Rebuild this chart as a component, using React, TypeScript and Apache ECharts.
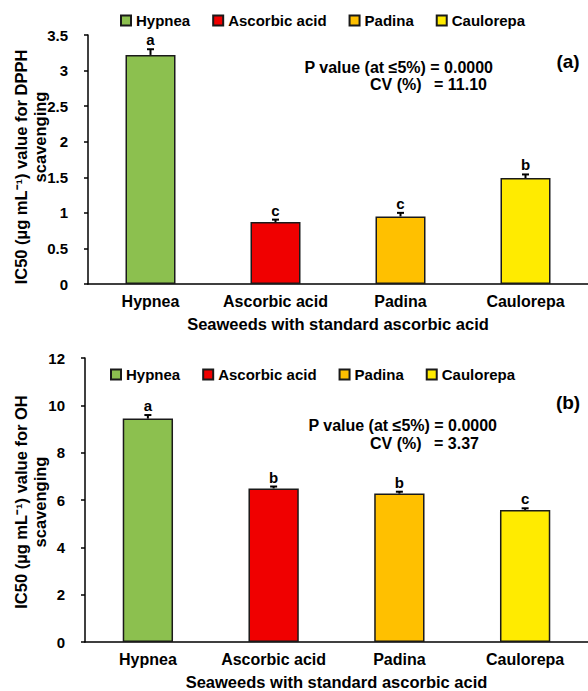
import React, { useEffect, useRef } from "react";
import * as echarts from "echarts";

const categories = ["Hypnea", "Ascorbic acid", "Padina", "Caulorepa"];
const colors = ["#8cc04f", "#f00000", "#ffc000", "#ffeb00"];

const dpphValues = [3.22, 0.87, 0.95, 1.49];
const dpphErrors = [0.08, 0.035, 0.05, 0.05];
const dpphLetters = ["a", "c", "c", "b"];

const ohValues = [9.44, 6.49, 6.27, 5.58];
const ohErrors = [0.15, 0.08, 0.08, 0.07];
const ohLetters = ["a", "b", "b", "c"];

const dpphTicks = { min: 0, max: 3.5, interval: 0.5 };
const ohTicks = { min: 0, max: 12, interval: 2 };

const FONT = "'Liberation Sans', Arial, sans-serif";

export default function App() {
  const ref = useRef<HTMLDivElement>(null);
  useEffect(() => {
    if (!ref.current) return;
    const chart = echarts.init(ref.current, null, { renderer: "svg" });

    const makeBars = (values: number[], axisIdx: number, stack: string) =>
      categories.map((name, i) => ({
        name,
        type: "bar",
        stack,
        xAxisIndex: axisIdx,
        yAxisIndex: axisIdx,
        barWidth: "40%",
        data: values.map((v, j) => (j === i ? v : "-")),
        itemStyle: { color: colors[i], borderColor: "#1a1a1a", borderWidth: 1.5 },
      }));

    const makeErr = (values: number[], errs: number[], letters: string[], axisIdx: number) => ({
      type: "custom",
      xAxisIndex: axisIdx,
      yAxisIndex: axisIdx,
      z: 10,
      data: values.map((v, i) => [i, v, errs[i]]),
      renderItem: (params: any, api: any) => {
        const x = api.value(0);
        const v = api.value(1);
        const e = api.value(2);
        const p0 = api.coord([x, v]);
        const p1 = api.coord([x, v + e]);
        return {
          type: "group",
          children: [
            { type: "line", shape: { x1: p0[0], y1: p0[1], x2: p1[0], y2: p1[1] }, style: { stroke: "#000", lineWidth: 2 } },
            { type: "line", shape: { x1: p1[0] - 3.5, y1: p1[1], x2: p1[0] + 3.5, y2: p1[1] }, style: { stroke: "#000", lineWidth: 2 } },
            {
              type: "text",
              x: p1[0],
              y: p1[1] - 2,
              style: {
                text: letters[params.dataIndex],
                textAlign: "center",
                textVerticalAlign: "bottom",
                font: `bold 15px ${FONT}`,
                fill: "#000",
              },
            },
          ],
        };
      },
    });

    const axisLabel = { color: "#000", fontWeight: "bold", fontSize: 15, fontFamily: FONT };
    const xAxisBase = (gridIndex: number) => ({
      type: "category",
      gridIndex,
      data: categories,
      axisLine: { lineStyle: { color: "#000", width: 1.5 } },
      axisTick: { show: false },
      axisLabel: { ...axisLabel, fontSize: 16, margin: 9, interval: 0 },
      name: "Seaweeds with standard ascorbic acid",
      nameLocation: "middle",
      nameGap: 31,
      nameTextStyle: { color: "#000", fontWeight: "bold", fontSize: 16.5, fontFamily: FONT },
    });
    const yAxisBase = (gridIndex: number, t: any) => ({
      type: "value",
      gridIndex,
      min: t.min,
      max: t.max,
      interval: t.interval,
      axisLine: { show: true, lineStyle: { color: "#000", width: 1.5 } },
      axisTick: { show: true, length: 4, lineStyle: { color: "#000", width: 1.5 } },
      splitLine: { show: false },
      axisLabel: { ...axisLabel, margin: 20 },
    });

    const legendBase = (top: number, left: number) => ({
      top,
      left,
      icon: "rect",
      itemWidth: 10,
      itemHeight: 10,
      itemGap: 22,
      data: categories,
      textStyle: { color: "#000", fontWeight: "bold", fontSize: 15, fontFamily: FONT },
    });

    const txt = (x: number, y: number, text: string, align: string, size = 16, rotation = 0) => ({
      type: "text",
      x,
      y,
      rotation,
      style: { text, textAlign: align, textVerticalAlign: "middle", font: `bold ${size}px ${FONT}`, fill: "#000" },
    });

    const R = Math.PI / 2;

    chart.setOption({
      animation: false,
      grid: [
        { left: 88, top: 35, width: 504, height: 249 },
        { left: 85, top: 358, width: 508, height: 286 },
      ],
      legend: [legendBase(8, 115), legendBase(362, 105)],
      xAxis: [xAxisBase(0), xAxisBase(1)],
      yAxis: [yAxisBase(0, dpphTicks), yAxisBase(1, ohTicks)],
      series: [
        ...makeBars(dpphValues, 0, "a"),
        ...makeBars(ohValues, 1, "b"),
        makeErr(dpphValues, dpphErrors, dpphLetters, 0),
        makeErr(ohValues, ohErrors, ohLetters, 1),
      ],
      graphic: [
        txt(21, 167, "IC50 (µg mL⁻¹) value for DPPH", "center", 16.5, R),
        txt(40, 137, "scavenging", "center", 16.5, R),
        txt(21, 502, "IC50 (µg mL⁻¹) value for OH", "center", 16.5, R),
        txt(40, 502, "scavenging", "center", 16.5, R),
        txt(568, 61, "(a)", "center", 19),
        txt(493, 67, "P value (at ≤5%) = 0.0000", "right"),
        txt(370, 84, "CV (%)", "left"),
        txt(434, 84, "= 11.10", "left"),
        txt(568, 402, "(b)", "center", 19),
        txt(497, 425, "P value (at ≤5%) = 0.0000", "right"),
        txt(370, 443, "CV (%)", "left"),
        txt(434, 443, "= 3.37", "left"),
      ],
    });
    return () => chart.dispose();
  }, []);
  return <div ref={ref} style={{ position: "fixed", left: 0, top: 0, width: 588, height: 691, background: "#fff" }} />;
}
